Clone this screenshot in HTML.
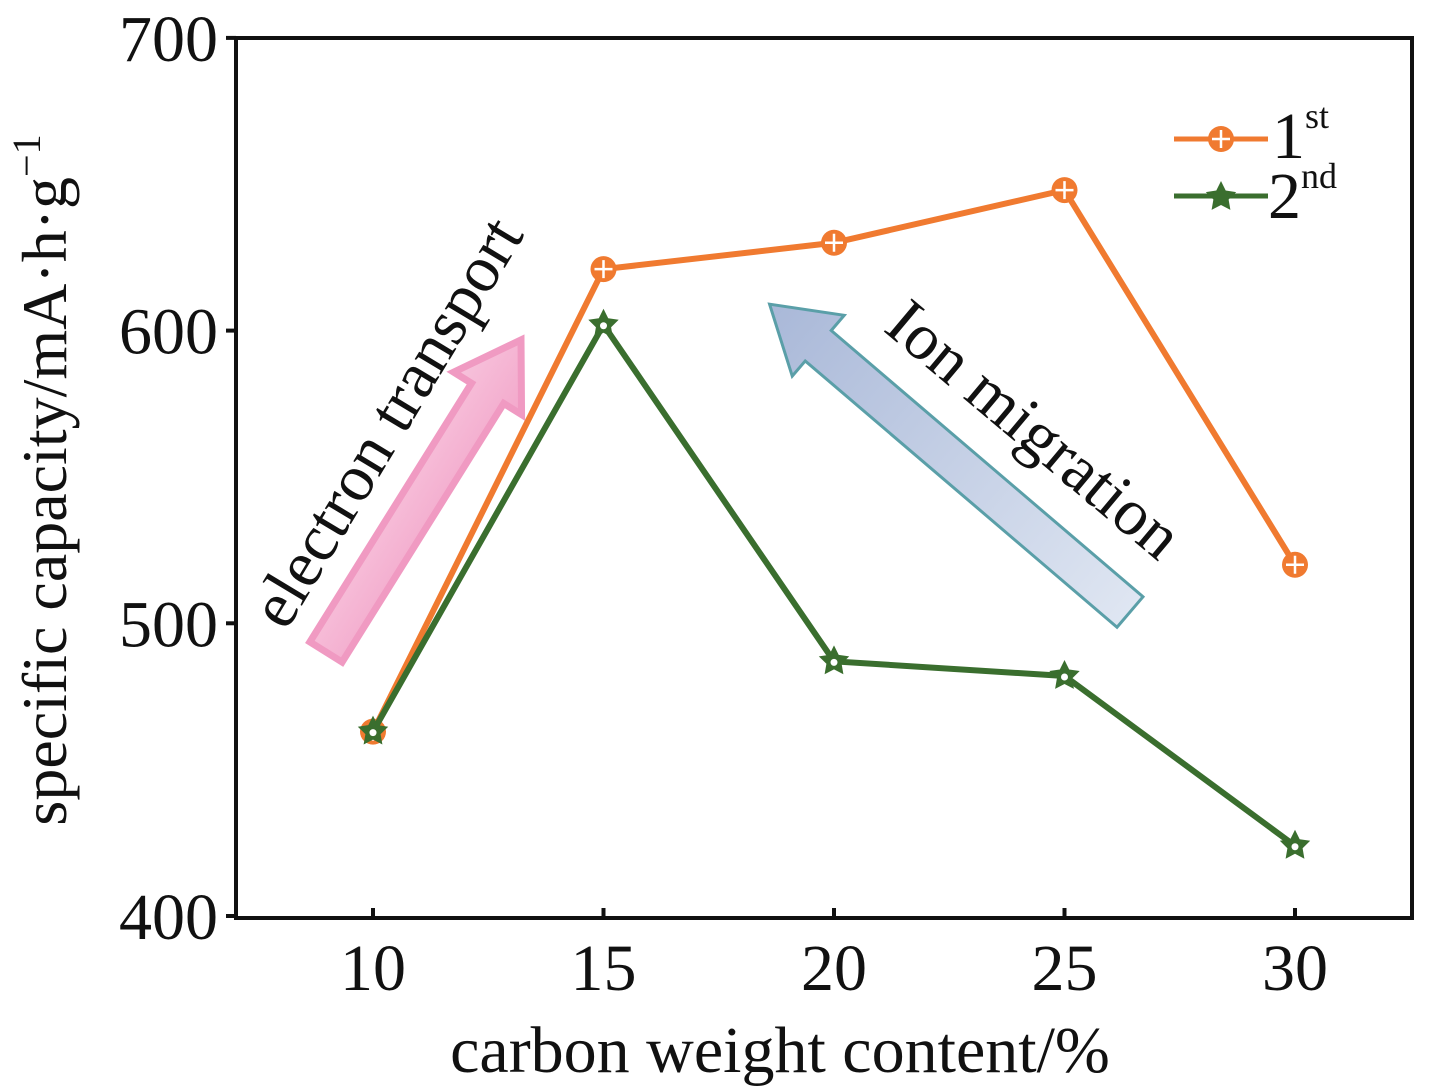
<!DOCTYPE html>
<html><head><meta charset="utf-8"><style>body{margin:0;background:#fff}svg{display:block}text{font-family:"Liberation Serif",serif;fill:#111}</style></head>
<body>
<svg id="c" width="1429" height="1088" viewBox="0 0 1429 1088">
<defs>
<linearGradient id="pg" x1="0" y1="0" x2="0" y2="1"><stop offset="0" stop-color="#f7c3dc"/><stop offset="1" stop-color="#f3a8cb"/></linearGradient>
<linearGradient id="bg" x1="0" y1="0" x2="1" y2="0"><stop offset="0" stop-color="#dfe6f2"/><stop offset="1" stop-color="#a9b8d8"/></linearGradient>
</defs>
<g transform="translate(326,652) rotate(-58)">
<polygon points="0,-19 305,-19 305,-40 368,0 305,40 305,19 0,19" fill="url(#pg)" stroke="#f09ac2" stroke-width="7"/>
</g>
<g transform="translate(1130,612) rotate(-139.5)">
<polygon points="0,-20 410,-20 410,-40 474,0 410,40 410,20 0,20" fill="url(#bg)" stroke="#5a9fa8" stroke-width="3"/>
</g>
<text transform="translate(286,632) rotate(-59)" font-size="66">electron transport</text>
<text transform="translate(882,330) rotate(40)" font-size="66">Ion migration</text>
<rect x="236" y="38" width="1176" height="880" fill="none" stroke="#111" stroke-width="4"/>
<g id="axes"></g>
<g id="series"></g>
<text transform="translate(66,480) rotate(-90)" font-size="64" text-anchor="middle">specific capacity/mA·h·g<tspan dy="-26" font-size="40">−1</tspan></text>
<text x="780" y="1072" font-size="66" text-anchor="middle">carbon weight content/%</text>
<g>
<line x1="1174" y1="139" x2="1268" y2="139" stroke="#f07a30" stroke-width="5"/>
<circle cx="1221" cy="139" r="13" fill="#f07a30"/><path d="M1221 130v18M1212 139h18" stroke="#fff" stroke-width="2.5"/>
<text x="1272" y="158" font-size="66">1<tspan dy="-30" font-size="36">st</tspan></text>
<line x1="1174" y1="196" x2="1268" y2="196" stroke="#3a6e2e" stroke-width="5"/>
<polygon id="legstar" fill="#3a6e2e"/>
<text x="1268" y="218" font-size="66">2<tspan dy="-30" font-size="36">nd</tspan></text>
</g>
</svg>
<script>
const categories=[10,15,20,25,30];
const first=[463,621,630,648,520];
const second=[463,602,487,482,424];
const yTicks=[400,500,600,700];
const X0=236,X1=1412,Y0=918,Y1=38;
const xs=v=>373+(v-10)*46.1;
const ys=v=>916-(v-400)*2.927;
const NS='http://www.w3.org/2000/svg';
function mk(t,a,p){const e=document.createElementNS(NS,t);for(const k in a)e.setAttribute(k,a[k]);p.appendChild(e);return e;}
const ax=document.getElementById('axes'),se=document.getElementById('series');
yTicks.forEach(v=>{const y=ys(v);
 const t=mk('line',{x1:X0-10,x2:X0,y1:y,y2:y,stroke:'#111','stroke-width':4},ax);
 
 
 const l=mk('text',{x:X0-18,y:y+23,'font-size':66,'text-anchor':'end'},ax);l.textContent=v;
 
 });
categories.forEach(v=>{const x=xs(v);
 const t=mk('line',{x1:x,x2:x,y1:Y0,y2:Y0-10,stroke:'#111','stroke-width':4},ax);
 
 
 const l=mk('text',{x:x,y:990,'font-size':66,'text-anchor':'middle'},ax);l.textContent=v;
 
 });
function star(cx,cy,R){let p=[];for(let i=0;i<10;i++){const r=i%2?R*0.5:R,a=-Math.PI/2+i*Math.PI/5;p.push((cx+r*Math.cos(a)).toFixed(1)+','+(cy+r*Math.sin(a)).toFixed(1));}return p.join(' ');}
document.getElementById('legstar').setAttribute('points',star(1221,197,16));
function draw(vals,color,name,kind){
 const pts=vals.map((v,i)=>xs(categories[i])+','+ys(v)).join(' ');
 const pl=mk('polyline',{points:pts,fill:'none',stroke:color,'stroke-width':6},se);
 
 
 vals.forEach((v,i)=>{const x=xs(categories[i]),y=ys(v);let m;
  if(kind==='c'){m=mk('g',{},se);mk('circle',{cx:x,cy:y,r:13,fill:color},m);mk('path',{d:`M${x} ${y-9}v18M${x-9} ${y}h18`,stroke:'#fff','stroke-width':2.5},m);}
  else{m=mk('g',{},se);mk('polygon',{points:star(x,y,16),fill:color},m);mk('circle',{cx:x,cy:y+1,r:3.5,fill:'#fff'},m);}
  
  });
}
draw(first,'#f07a30','series-1st','c');
draw(second,'#3a6e2e','series-2nd','s');
</script>
</body></html>
